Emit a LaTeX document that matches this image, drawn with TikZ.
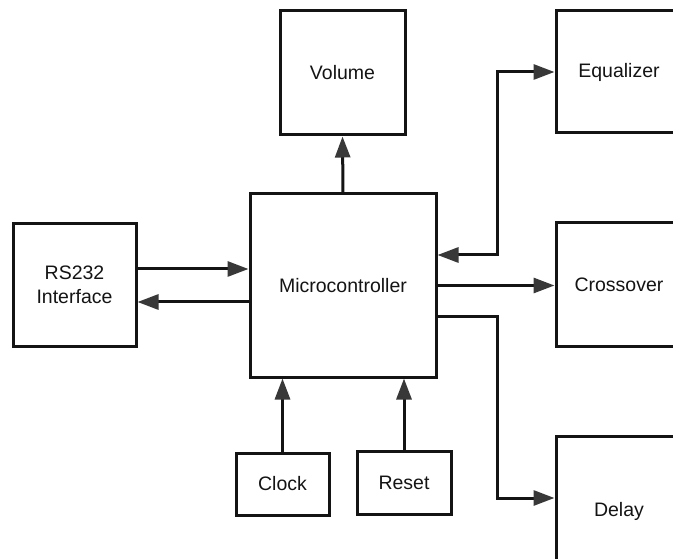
\documentclass[tikz,border=0pt]{standalone}
\usepackage{fontspec}
\setmainfont{Liberation Sans}
\usetikzlibrary{arrows.meta}
\definecolor{ink}{HTML}{141414}
\definecolor{tipgray}{HTML}{383838}
\begin{document}
\begin{tikzpicture}[x=1pt,y=1pt,
  box/.style={draw=ink, line width=3pt, inner sep=0pt, text=ink,
    font=\fontsize{19.5}{24}\selectfont, align=center},
  conn/.style={draw=ink, line width=3pt,
    -{Triangle[length=21pt,width=15pt,color=tipgray]}},
  connboth/.style={draw=ink, line width=3pt,
    {Triangle[length=21pt,width=15pt,color=tipgray]}-{Triangle[length=21pt,width=15pt,color=tipgray]}}]
\useasboundingbox (0,0) rectangle (673,-559);
\fill[white] (0,0) rectangle (673,-559);

\node[box, minimum width=125pt, minimum height=124pt] (vol) at (342.5,-73) {Volume};
\node[box, minimum width=126pt, minimum height=122pt] (eq) at (619,-72) {Equalizer};
\node[box, minimum width=186pt, minimum height=183pt] (mc) at (343,-285.5) {Microcontroller};
\node[box, minimum width=123pt, minimum height=122pt] (rs) at (74.5,-285) {RS232\\Interface};
\node[box, minimum width=126pt, minimum height=123pt] (cr) at (619,-284.5) {Crossover};
\node[box, minimum width=126pt, minimum height=124pt] (dl) at (619,-498) {\raisebox{-18pt}[0pt][0pt]{Delay}};
\node[box, minimum width=93pt, minimum height=62pt] (ck) at (282.5,-484) {Clock};
\node[box, minimum width=94pt, minimum height=63pt] (rst) at (404,-483) {Reset};

\coordinate (bus) at (497,-285);

\draw[conn] (mc.north) -- (vol.south);
\draw[conn] ([yshift=16pt]rs.east) -- ([yshift=16pt]rs.east -| mc.west);
\draw[conn] ([yshift=-17pt]rs.east -| mc.west) -- ([yshift=-17pt]rs.east);
\draw[connboth] ([yshift=30.5pt]mc.east) -- ([yshift=30.5pt]mc.east -| bus) -- (bus |- eq.west) -- (eq.west);
\draw[conn] (mc.east) -- (mc.east -| cr.west);
\draw[conn] ([yshift=-30.5pt]mc.east) -- ([yshift=-30.5pt]mc.east -| bus) -- (bus |- dl.west) -- (dl.west);
\draw[conn] (ck.north) -- (ck.north |- mc.south);
\draw[conn] (rst.north) -- (rst.north |- mc.south);
\end{tikzpicture}
\end{document}
